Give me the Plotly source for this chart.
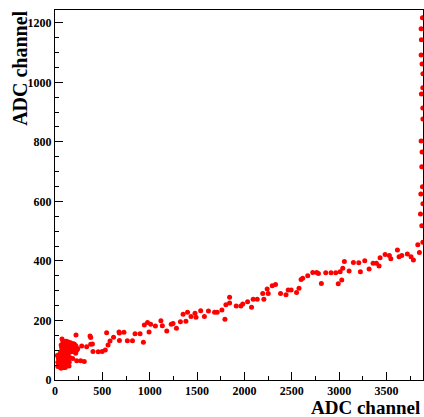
import plotly.graph_objects as go

# ---- data ----
cluster_x = [60,70,80,90,100,110,120,130,140,150,160,170,180,190,200,210,220,230,240,85,105,125,145,165,185,205,115,135,95,75,155,175,195,225,65,140,120,100,
             30,35,40,45,50,55,60,65,70,75,80,85,90,95,100,105,110,115,120,125,130,140,150,160,25,40,55,70,85,100,115,135,45,65,80,95,60,110,145,30]
cluster_y = [95,110,120,105,115,125,100,110,120,95,105,115,100,110,98,108,115,100,105,130,100,118,105,125,118,120,92,95,122,100,112,95,122,108,118,128,130,128,
             60,75,50,85,65,45,78,55,88,68,48,80,60,42,72,85,55,65,80,48,70,85,60,75,82,70,90,40,65,50,88,55,55,72,92,85,40,42,70,45]

trend_x = [74,148,187,218,222,229,271,282,309,334,370,377,377,395,
           401,456,498,531,545,560,581,618,676,680,680,728,764,818,845,898,933,943,977,993,1010,1060,1118,1133,1180,1227,1246,1282,1324,1352,1382,1399,1436,1478,1489,1538,1577,1620,1685,1712,
           1762,1794,1804,1843,1843,1913,1962,1982,2033,2075,2092,2135,2193,2205,2240,2251,2293,2328,2381,2439,2462,2493,2550,2576,2598,2615,2668,2721,2763,2781,2812,2858,2914,2964,2990,3010,3027,3038,3055,3105,3150,3207,3224,3270,3316,3358,3393,3421,3432,3485,3530,3545,3615,3632,3661,3720,3759,3784,3830,3847,3883]
trend_y = [138,47,72,90,151,65,65,114,62,112,148,143,120,121,
           96,95,96,101,159,118,131,144,161,158,133,160,132,132,155,155,127,185,193,161,187,181,199,182,165,187,190,174,196,221,197,228,213,224,211,233,213,232,228,228,
           235,204,253,259,278,249,249,255,263,244,271,271,291,271,306,291,317,321,291,286,302,302,294,308,338,342,350,361,361,358,324,360,360,360,323,364,336,375,398,366,395,394,364,401,373,392,392,383,411,422,418,407,437,414,418,423,414,403,454,428,463]

column_x = [3879,3865,3868,3865,3875,3884,3883,3868,3883,3884,3865,3875,3872,3879,3862,3884,3858,3872]
column_y = [1217,1180,1143,1092,1062,1029,982,961,914,877,803,766,716,649,625,592,558,518]

x_ticks = [0, 500, 1000, 1500, 2000, 2500, 3000, 3500]
y_ticks = [0, 200, 400, 600, 800, 1000, 1200]

xs = cluster_x + trend_x + column_x
ys = cluster_y + trend_y + column_y

serif = "Liberation Serif"

fig = go.Figure(go.Scatter(
    x=xs, y=ys, mode="markers",
    marker=dict(color="#ff0000", size=5, line=dict(width=0)),
    hoverinfo="skip"))

axis_common = dict(ticks="inside", ticklen=8, tickcolor="black", showline=True,
                   linecolor="black", linewidth=1, mirror=True, showgrid=False,
                   zeroline=False,
                   tickfont=dict(family=serif, size=12, color="black"))

fig.update_layout(
    width=424, height=417,
    margin=dict(l=55, r=1, t=10, b=37, autoexpand=False),
    paper_bgcolor="white", plot_bgcolor="white",
    showlegend=False,
    xaxis=dict(range=[0, 3885], tickvals=x_ticks,
               ticktext=["<b>%d</b>" % v for v in x_ticks],
               minor=dict(dtick=250, tick0=0, ticks="inside", ticklen=4, tickcolor="black", showgrid=False),
               **axis_common),
    yaxis=dict(range=[0, 1243], tickvals=y_ticks,
               ticktext=["<b>%d</b>" % v for v in y_ticks],
               minor=dict(dtick=50, tick0=0, ticks="inside", ticklen=4, tickcolor="black", showgrid=False),
               **axis_common),
    annotations=[
        dict(text="<b>ADC channel</b>", xref="paper", yref="paper", x=0.997, y=-0.0745,
             xanchor="right", yanchor="middle", showarrow=False,
             font=dict(family=serif, size=19, color="black")),
        dict(text="<b>ADC channel</b>", xref="paper", yref="paper", x=-0.094, y=0.842,
             xanchor="center", yanchor="middle", textangle=-90, showarrow=False,
             font=dict(family=serif, size=20, color="black")),
    ],
)

fig.write_html("out.html")
